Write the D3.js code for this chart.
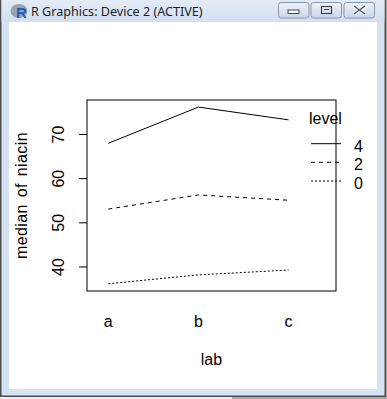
<!DOCTYPE html>
<html lang="en">
<head>
	<meta charset="UTF-8">
	<title>interaction plot</title>
	<script src="https://cdn.jsdelivr.net/npm/d3@7"></script>
	<style>
		body{
			margin:0;
			background:#fff;
		}
		svg{
			display:block;
		}
		text{
			font-family:"Liberation Sans",Arial,sans-serif;
		}
	</style>
</head>
<body>
	<svg id="svg" width="387" height="399"></svg>
	<script>
		// data
		var labs = ["a", "b", "c"];
		var levels = ["4", "2", "0"];
		var niacin4 = [67.9, 76.1, 73.2];
		var niacin2 = [53.0, 56.2, 55.0];
		var niacin0 = [36.1, 38.1, 39.2];
		var yTicks = [40, 50, 60, 70];
		var dashes = ["none", "4,4", "2,2"];

		var series = [niacin4, niacin2, niacin0];

		var svg = d3.select("svg"),
			W = 387, H = 399;

		// ---- window chrome ----
		var defs = svg.append("defs");
		var tg = defs.append("linearGradient").attr("id","tbar").attr("x1",0).attr("y1",0).attr("x2",0).attr("y2",1);
		tg.append("stop").attr("offset","0%").attr("stop-color","#e3ebf6");
		tg.append("stop").attr("offset","100%").attr("stop-color","#d3e0f0");
		var bg = defs.append("linearGradient").attr("id","btn").attr("x1",0).attr("y1",0).attr("x2",0).attr("y2",1);
		bg.append("stop").attr("offset","0%").attr("stop-color","#eef3fa");
		bg.append("stop").attr("offset","100%").attr("stop-color","#c9d6e8");

		svg.append("rect").attr("x",0).attr("y",0).attr("width",W).attr("height",H).attr("fill","#a7a7a7");
		svg.append("rect").attr("x",0).attr("y",397).attr("width",232).attr("height",2).attr("fill","#efefef");
		svg.append("rect").attr("x",0).attr("y",0).attr("width",386).attr("height",397).attr("fill","#4d4d4d");
		svg.append("rect").attr("x",1.5).attr("y",0).attr("width",383).attr("height",395.5).attr("fill","#d6e3f2");
		svg.append("rect").attr("x",1.5).attr("y",0).attr("width",383).attr("height",22).attr("fill","url(#tbar)");
		svg.append("rect").attr("x",9).attr("y",22).attr("width",368).attr("height",367).attr("fill","#fff");

		// R icon
		svg.append("ellipse").attr("cx",19).attr("cy",11).attr("rx",8.5).attr("ry",7).attr("fill","#9aa3b0");
		svg.append("text").attr("x",21.5).attr("y",17.5).attr("text-anchor","middle")
			.style("font-size","15px").style("font-weight","bold").attr("fill","#1f5fbf").text("R");
		svg.append("text").attr("x",31).attr("y",16).style("font-family","'Noto Sans',sans-serif")
			.style("font-size","12.6px").attr("fill","#1e1e1e").text("R Graphics: Device 2 (ACTIVE)");

		var btns = [278.5, 311, 344];
		btns.forEach(function(bx,i){
			svg.append("rect").attr("x",bx).attr("y",2.5).attr("width",30.5).attr("height",15.5).attr("rx",2.5)
				.attr("fill","url(#btn)").attr("stroke","#8797ad");
		});
		svg.append("rect").attr("x",288).attr("y",10).attr("width",11).attr("height",3.5).attr("fill","#fff").attr("stroke","#3a4657");
		svg.append("rect").attr("x",321.5).attr("y",6.5).attr("width",10).attr("height",7).attr("fill","none").attr("stroke","#3a4657").attr("stroke-width",1.2);
		svg.append("line").attr("x1",324).attr("x2",329).attr("y1",9.5).attr("y2",9.5).attr("stroke","#3a4657");
		svg.append("path").attr("d","M354,6 L365,14 M365,6 L354,14").attr("stroke","#fff").attr("stroke-width",3.2);
		svg.append("path").attr("d","M354,6 L365,14 M365,6 L354,14").attr("stroke","#4a5568").attr("stroke-width",1.4);

		// ---- plot ----
		var box = {l:87, r:336, t:100, b:291};
		var x = d3.scaleLinear().domain([0.764, 3.526]).range([box.l, box.r]);
		var y = d3.scaleLinear().domain([34.45, 77.7]).range([box.b, box.t]);

		var line = d3.line()
			.x(function(d,i){ return x(i+1); })
			.y(function(d){ return y(d); });

		svg.selectAll(".series").data(series).enter().append("path")
			.attr("class","series")
			.attr("d", line)
			.attr("fill","none")
			.attr("stroke","#000")
			.attr("stroke-width",1)
			.attr("stroke-dasharray", function(d,i){ return dashes[i]; });

		svg.append("rect").attr("x",box.l).attr("y",box.t)
			.attr("width",box.r-box.l).attr("height",box.b-box.t)
			.attr("fill","none").attr("stroke","#000").attr("stroke-width",1);

		var yAxis = svg.append("g").attr("transform","translate("+box.l+",0)")
			.call(d3.axisLeft(y).tickValues(yTicks).tickSize(8).tickSizeOuter(0));
		yAxis.select(".domain").remove();
		yAxis.selectAll("line").attr("stroke","#000");
		yAxis.selectAll("text")
			.attr("transform","rotate(-90)")
			.attr("x",0).attr("y",-23).attr("dy",0)
			.attr("text-anchor","middle")
			.attr("fill","#000")
			.style("font-size","16px")
			.style("font-family","'Liberation Sans',Arial,sans-serif");

		svg.selectAll(".xlab").data(labs).enter().append("text")
			.attr("class","xlab")
			.attr("x", function(d,i){ return x(i+1); })
			.attr("y", 327)
			.attr("text-anchor","middle")
			.style("font-size","16px")
			.text(function(d){ return d; });

		svg.append("text").attr("x",(box.l+box.r)/2).attr("y",365)
			.attr("text-anchor","middle").style("font-size","16px").text("lab");
		svg.append("text").attr("transform","translate(27,"+((box.t+box.b)/2)+") rotate(-90)")
			.attr("text-anchor","middle").style("font-size","16px")
			.style("letter-spacing","0.4px").style("word-spacing","2px")
			.text("median of niacin");

		// legend
		svg.append("text").attr("x",309).attr("y",123.5).style("font-size","16px").text("level");
		var legRows = [143.7, 162.3, 181];
		var leg = svg.selectAll(".leg").data(levels).enter().append("g").attr("class","leg")
			.attr("transform", function(d,i){ return "translate(0,"+legRows[i]+")"; });
		leg.append("line").attr("x1",311).attr("x2",341).attr("y1",0).attr("y2",0)
			.attr("stroke","#000").attr("stroke-dasharray", function(d,i){ return dashes[i]; });
		leg.append("text").attr("x",354).attr("y",8).style("font-size","16px").text(function(d){ return d; });
	</script>
</body>
</html>
